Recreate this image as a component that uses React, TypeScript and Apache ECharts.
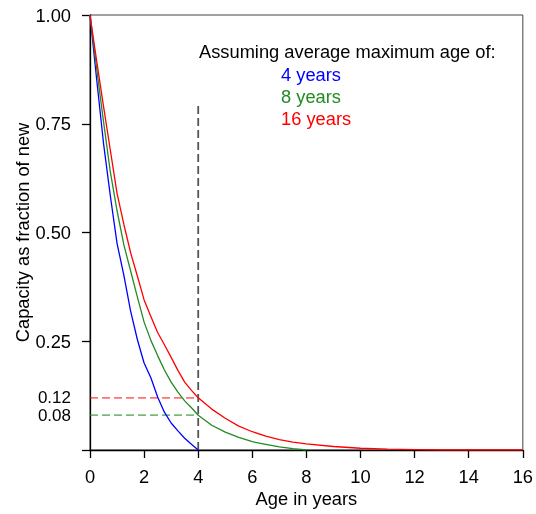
import React, { useEffect, useRef } from "react";
import * as echarts from "echarts";

const blueAges = [0, 0.25, 0.5, 0.75, 1, 1.25, 1.5, 1.75, 2, 2.25, 2.5, 2.75, 3, 3.25, 3.5, 3.75, 4];
const blueCapacity = [1, 0.85, 0.705, 0.585, 0.475, 0.402, 0.32, 0.254, 0.2, 0.166, 0.122, 0.087, 0.062, 0.044, 0.027, 0.013, 0];

const greenAges = [0, 0.25, 0.5, 0.75, 1, 1.25, 1.5, 1.75, 2, 2.25, 2.5, 2.75, 3, 3.25, 3.5, 3.75, 4, 4.5, 5, 5.5, 6, 6.5, 7, 7.5, 8];
const greenCapacity = [1, 0.875, 0.755, 0.64, 0.55, 0.472, 0.412, 0.352, 0.294, 0.252, 0.217, 0.184, 0.156, 0.133, 0.113, 0.097, 0.08, 0.057, 0.041, 0.029, 0.019, 0.013, 0.007, 0.003, 0];

const redAges = [0, 0.25, 0.5, 0.75, 1, 1.25, 1.5, 1.75, 2, 2.25, 2.5, 2.75, 3, 3.25, 3.5, 3.75, 4, 4.5, 5, 5.5, 6, 6.5, 7, 7.5, 8, 9, 10, 11, 12, 13, 14, 15, 16];
const redCapacity = [1, 0.893, 0.79, 0.69, 0.59, 0.519, 0.454, 0.4, 0.345, 0.307, 0.27, 0.242, 0.213, 0.183, 0.156, 0.137, 0.12, 0.094, 0.073, 0.055, 0.042, 0.032, 0.024, 0.018, 0.014, 0.008, 0.004, 0.002, 0.001, 0, 0, 0, 0];

const refAge = [0, 4];
const redRef = 0.12;
const greenRef = 0.08;
const vLineY = [0, 0.8];

const yLabelValues = [0.25, 0.5, 0.75, 1];
const yRefLabelValues = [0.08, 0.12];
const yTickValues = [0, 0.25, 0.5, 0.75, 1];

const legendTitle = "Assuming average maximum age of:";
const legendItems = ["4 years", "8 years", "16 years"];

const BLUE = "#0000ff";
const GREEN = "#228b22";
const RED = "#ff0000";
const FONT = "'Liberation Sans', Arial, sans-serif";
const FS = 18.3;

const zip = (xs: number[], ys: number[]) => xs.map((x, i) => [x, ys[i]]);

export default function App() {
  const ref = useRef<HTMLDivElement>(null);
  useEffect(() => {
    if (!ref.current) return;
    const chart = echarts.init(ref.current, null, { renderer: "svg" });
    const lineSeries = (data: number[][], color: string) => ({
      type: "line",
      data,
      symbol: "none",
      silent: true,
      lineStyle: { color, width: 1.3 },
    });
    const dashSeries = (data: number[][], color: string, width: number) => ({
      type: "line",
      data,
      symbol: "none",
      silent: true,
      lineStyle: { color, width, type: [8, 4] },
    });
    const labelStyle = {
      fontSize: FS,
      color: "#000",
      fontFamily: FONT,
      margin: 19,
      hideOverlap: false,
      showMinLabel: true,
      showMaxLabel: true,
      formatter: (v: number) => v.toFixed(2),
    };
    chart.setOption({
      animation: false,
      grid: {
        left: 90,
        right: 10,
        top: 15,
        bottom: 64,
        show: true,
        borderColor: "#444",
        borderWidth: 1,
      },
      xAxis: {
        type: "value",
        min: 0,
        max: 16,
        interval: 2,
        name: "Age in years",
        nameLocation: "middle",
        nameGap: 34,
        nameTextStyle: { fontSize: FS, color: "#000", fontFamily: FONT },
        axisLine: { lineStyle: { color: "#000", width: 1.3 } },
        axisTick: { length: 8, lineStyle: { color: "#000", width: 1.3 } },
        axisLabel: { fontSize: FS, color: "#000", fontFamily: FONT, margin: 17 },
        splitLine: { show: false },
      },
      yAxis: [
        {
          type: "value",
          min: 0,
          max: 1,
          interval: 0.25,
          name: "Capacity as fraction of new",
          nameLocation: "middle",
          nameGap: 59,
          nameMoveOverlap: false,
          nameTextStyle: { fontSize: FS, color: "#000", fontFamily: FONT },
          axisLine: { lineStyle: { color: "#000", width: 1.3 } },
          axisTick: { length: 8, customValues: yTickValues, lineStyle: { color: "#000", width: 1.3 } },
          axisLabel: { ...labelStyle, customValues: yLabelValues },
          splitLine: { show: false },
        },
        {
          type: "value",
          position: "left",
          min: 0,
          max: 1,
          interval: 0.25,
          axisLine: { show: false },
          axisTick: { show: false },
          axisLabel: { ...labelStyle, fontSize: 17, lineHeight: 14, customValues: yRefLabelValues },
          splitLine: { show: false },
        },
      ],
      series: [
        dashSeries([[refAge[0], redRef], [refAge[1], redRef]], "rgba(255,0,0,0.55)", 1.8),
        dashSeries([[refAge[0], greenRef], [refAge[1], greenRef]], "rgba(34,139,34,0.6)", 1.8),
        dashSeries([[refAge[1], vLineY[0]], [refAge[1], vLineY[1]]], "#555", 1.8),
        lineSeries(zip(blueAges, blueCapacity), BLUE),
        lineSeries(zip(greenAges, greenCapacity), GREEN),
        lineSeries(zip(redAges, redCapacity), RED),
      ],
      graphic: [
        {
          type: "text",
          x: 199,
          y: 51,
          style: { text: legendTitle, fill: "#000", fontSize: FS, fontFamily: FONT, verticalAlign: "middle" },
        },
        ...legendItems.map((t, i) => ({
          type: "text",
          x: 281,
          y: 74 + i * 22,
          style: { text: t, fill: [BLUE, GREEN, RED][i], fontSize: FS, fontFamily: FONT, verticalAlign: "middle" },
        })),
      ],
    });
    return () => chart.dispose();
  }, []);
  return <div ref={ref} style={{ position: "fixed", left: 0, top: 0, width: 536, height: 514 }} />;
}
